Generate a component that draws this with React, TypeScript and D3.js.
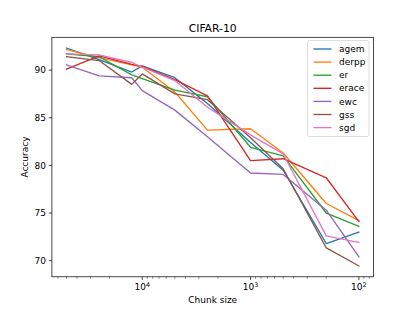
import * as d3 from 'd3';

const chunkSizes = [50000, 25000, 12500, 10000, 5000, 2500, 1000, 500, 200, 100];

const agem = [92.3, 91.1, 89.8, 90.45, 89.2, 86.5, 82.4, 79.5, 71.8, 73.0];
const derpp = [92.15, 91.3, 90.55, 90.3, 87.7, 83.7, 83.85, 81.3, 76.0, 74.2];
const er = [91.7, 91.4, 89.5, 89.1, 87.9, 87.2, 81.9, 81.0, 75.0, 73.6];
const erace = [90.1, 91.5, 90.6, 90.4, 89.0, 87.3, 80.5, 80.7, 78.7, 74.1];
const ewc = [90.55, 89.4, 89.2, 87.85, 85.8, 83.0, 79.2, 79.05, 75.3, 70.4];
const gss = [91.4, 91.0, 88.5, 89.6, 87.5, 86.9, 82.9, 79.65, 71.35, 69.45];
const sgd = [91.7, 91.6, 90.8, 90.3, 88.9, 86.1, 83.2, 81.2, 72.6, 71.9];

const seriesNames = ['agem', 'derpp', 'er', 'erace', 'ewc', 'gss', 'sgd'];
const seriesValues = [agem, derpp, er, erace, ewc, gss, sgd];
const colors = ['#1f77b4', '#ff7f0e', '#2ca02c', '#d62728', '#9467bd', '#8c564b', '#e377c2'];

const yTicks = [70, 75, 80, 85, 90];
const xMajor = [10000, 1000, 100];
const xMajorLabels = ['4', '3', '2'];

const W = 415;
const H = 311;
const left = 51.9;
const right = 373.5;
const top = 37.3;
const bottom = 276.8;

export default function App() {
  const lx = chunkSizes.map((c) => Math.log10(c));
  const lmin = d3.min(lx)!;
  const lmax = d3.max(lx)!;
  const lpad = (lmax - lmin) * 0.05;
  const x = d3
    .scaleLog()
    .domain([Math.pow(10, lmax + lpad), Math.pow(10, lmin - lpad)])
    .range([left, right]);

  const all = seriesValues.flat();
  const ymin = d3.min(all)!;
  const ymax = d3.max(all)!;
  const ypad = (ymax - ymin) * 0.05;
  const y = d3.scaleLinear().domain([ymin - ypad, ymax + ypad]).range([bottom, top]);

  const line = d3
    .line<number>()
    .x((_, i) => x(chunkSizes[i]))
    .y((d) => y(d));

  const [d0, d1] = x.domain();
  const minor: number[] = [];
  for (let e = 1; e <= 5; e++) {
    for (let m = 2; m <= 9; m++) {
      const v = m * Math.pow(10, e);
      if (v <= d0 && v >= d1) minor.push(v);
    }
  }

  const font = 'DejaVu Sans, sans-serif';
  const legX = 307.5;
  const legY = 40.5;
  const rowH = 13.1;

  return (
    <svg
      width={W}
      height={H}
      style={{ position: 'fixed', top: 0, left: 0, background: '#fff' }}
      fontFamily={font}
    >
      <rect x={0} y={0} width={W} height={H} fill="#fff" />
      <text x={(left + right) / 2} y={31.5} textAnchor="middle" fontSize={10.8} fill="#000">
        CIFAR-10
      </text>
      <g>
        {seriesValues.map((vals, i) => (
          <path
            key={seriesNames[i]}
            d={line(vals) ?? ''}
            fill="none"
            stroke={colors[i]}
            strokeWidth={1.35}
            strokeLinejoin="round"
            strokeLinecap="square"
          />
        ))}
      </g>
      <rect
        x={left}
        y={top}
        width={right - left}
        height={bottom - top}
        fill="none"
        stroke="#000"
        strokeWidth={0.72}
      />
      {yTicks.map((t) => (
        <g key={t}>
          <line x1={left} x2={left - 3.15} y1={y(t)} y2={y(t)} stroke="#000" strokeWidth={0.72} />
          <text x={left - 6} y={y(t)} dy="0.35em" textAnchor="end" fontSize={9} fill="#000">
            {t}
          </text>
        </g>
      ))}
      {minor.map((t) => (
        <line key={t} x1={x(t)} x2={x(t)} y1={bottom} y2={bottom + 1.8} stroke="#000" strokeWidth={0.5} />
      ))}
      {xMajor.map((t, i) => (
        <g key={t}>
          <line x1={x(t)} x2={x(t)} y1={bottom} y2={bottom + 3.15} stroke="#000" strokeWidth={0.72} />
          <text x={x(t)} y={bottom + 13.5} textAnchor="middle" fontSize={9} fill="#000">
            10
            <tspan dy={-3.6} fontSize={6.4}>
              {xMajorLabels[i]}
            </tspan>
          </text>
        </g>
      ))}
      <text x={(left + right) / 2} y={bottom + 26} textAnchor="middle" fontSize={9} fill="#000">
        Chunk size
      </text>
      <text
        transform={`translate(${27.5},${(top + bottom) / 2}) rotate(-90)`}
        textAnchor="middle"
        fontSize={9}
        fill="#000"
      >
        Accuracy
      </text>
      <rect
        x={legX}
        y={legY}
        width={61.5}
        height={96}
        rx={2}
        fill="#fff"
        fillOpacity={0.8}
        stroke="#ccc"
        strokeWidth={0.65}
      />
      {seriesNames.map((n, i) => (
        <g key={n}>
          <line
            x1={legX + 6}
            x2={legX + 24}
            y1={legY + 8.5 + i * rowH}
            y2={legY + 8.5 + i * rowH}
            stroke={colors[i]}
            strokeWidth={1.35}
          />
          <text x={legX + 31.5} y={legY + 8.5 + i * rowH} dy="0.35em" fontSize={9} fill="#000">
            {n}
          </text>
        </g>
      ))}
    </svg>
  );
}
